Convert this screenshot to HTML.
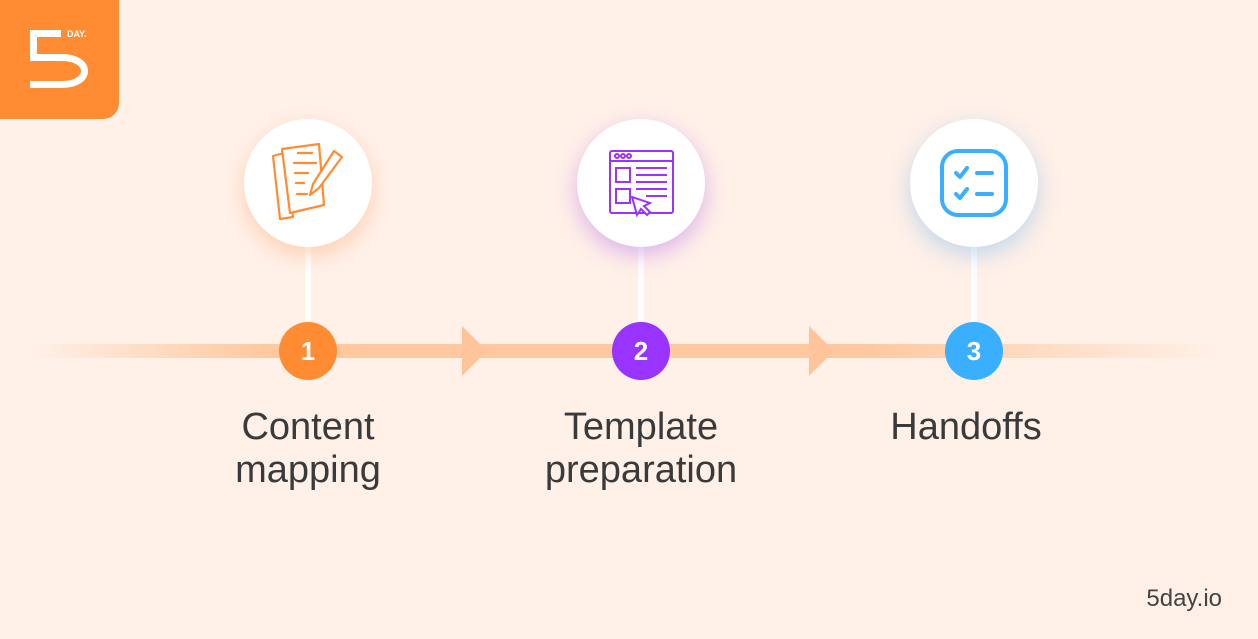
<!DOCTYPE html>
<html><head><style>
body{margin:0;width:1258px;height:639px;background:#fff0e8;position:relative;overflow:hidden;font-family:"Liberation Sans",sans-serif}
.abs{position:absolute}
.big{width:128px;height:128px;border-radius:50%;background:#fff;display:flex;align-items:center;justify-content:center}
.num{width:58px;height:58px;border-radius:50%;color:#fff;font-size:26px;font-weight:bold;display:flex;align-items:center;justify-content:center}
.stem{width:6px;background:#fff;opacity:.85}
.lbl{width:300px;text-align:center;font-size:38px;line-height:43px;color:#3a3a3a}
</style></head><body>
<div class="abs" style="left:0;top:0;width:119px;height:119px;background:#ff8c33;border-bottom-right-radius:16px"></div>
<svg class="abs" style="left:0;top:0" width="119" height="119" viewBox="0 0 119 119">
<path d="M61 33.5H33.5V57.5H62C92 57.5 92 84.5 62 84.5H30" fill="none" stroke="#fff" stroke-width="7"/>
<text x="67" y="37" font-size="9" font-weight="bold" fill="#fff" font-family="Liberation Sans">DAY.</text>
</svg>
<div class="abs" style="left:30px;top:344px;width:1190px;height:14px;background:linear-gradient(90deg,rgba(255,196,150,0),#ffc89e 20%,#ffc89e 70%,rgba(255,210,180,0))"></div>
<svg class="abs" style="left:462px;top:326px" width="26" height="50"><path d="M0 0L25 25L0 50Z" fill="#ffc49a"/></svg>
<svg class="abs" style="left:809px;top:326px" width="26" height="50"><path d="M0 0L25 25L0 50Z" fill="#ffc49a"/></svg>
<div class="abs stem" style="left:305px;top:245px;height:80px"></div>
<div class="abs stem" style="left:638px;top:245px;height:80px"></div>
<div class="abs stem" style="left:971px;top:245px;height:80px"></div>
<div class="abs big" style="left:244px;top:119px;box-shadow:0 8px 20px rgba(255,150,80,.35)">
<svg width="80" height="80" viewBox="0 0 80 80" fill="none" stroke="#ff8c33" stroke-width="2.2" stroke-linejoin="round" stroke-linecap="round">
<path d="M5 13L16 10L25 74L12 76Z"/><path d="M14 6L51 1L56 62L22 70Z" fill="#fff"/>
<path d="M30 10H44M26 20H48M27 30H40M28 40H36M29 51H39"/>
<path d="M66 8L74 14L51 45L42 52L45 41Z" fill="#fff"/></svg></div>
<div class="abs big" style="left:577px;top:119px;box-shadow:0 8px 22px rgba(170,90,240,.4)">
<svg width="80" height="80" viewBox="0 0 80 80" fill="none" stroke="#9933ff" stroke-width="2"><rect x="9" y="8" width="63" height="62" rx="2"/><path d="M9 18H72"/><circle cx="16" cy="13" r="2"/><circle cx="22" cy="13" r="2"/><circle cx="28" cy="13" r="2"/><rect x="15" y="25" width="14" height="14"/><rect x="15" y="46" width="14" height="14"/><path d="M35 25H66M35 32H66M35 39H66M35 46H66M45 53H66"/><path d="M31 54L36 72L40 66L46 72L49 69L43 63L49 60Z" fill="#fff"/></svg></div>
<div class="abs big" style="left:910px;top:119px;box-shadow:0 8px 22px rgba(80,170,240,.35)">
<svg width="80" height="80" viewBox="0 0 80 80" fill="none" stroke="#3aaeff" stroke-width="4" stroke-linecap="round" stroke-linejoin="round"><rect x="8" y="8" width="64" height="64" rx="16"/><path d="M22 30L26 34L33 25M22 51L26 55L33 46M43 30H58M43 51H58"/></svg></div>
<div class="abs num" style="left:279px;top:322px;background:#ff8c33">1</div>
<div class="abs num" style="left:612px;top:322px;background:#9933ff">2</div>
<div class="abs num" style="left:945px;top:322px;background:#3aaeff">3</div>
<div class="abs lbl" style="left:158px;top:406px">Content<br>mapping</div>
<div class="abs lbl" style="left:491px;top:406px">Template<br>preparation</div>
<div class="abs lbl" style="left:816px;top:406px">Handoffs</div>
<div class="abs" style="right:36px;top:585px;font-size:24px;color:#444">5day.io</div>
</body></html>
